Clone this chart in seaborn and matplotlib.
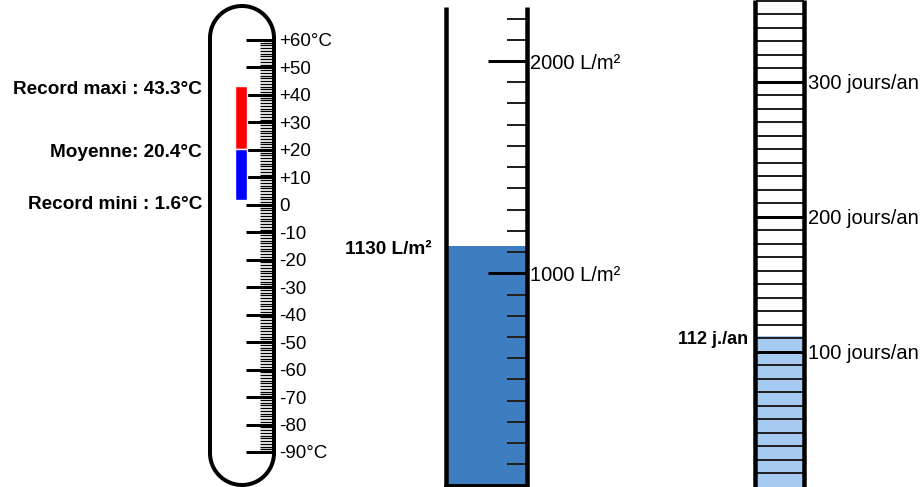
import numpy as np
import matplotlib.pyplot as plt
import seaborn as sns

# --- data ---
temp_values = [43.3, 20.4, 1.6]          # record maxi, moyenne, record mini
temp_texts = ["Record maxi : 43.3°C", "Moyenne: 20.4°C", "Record mini : 1.6°C"]
temp_ticks = [60, 50, 40, 30, 20, 10, 0, -10, -20, -30, -40, -50, -60, -70, -80, -90]
temp_labels = ["+60°C", "+50", "+40", "+30", "+20", "+10", "0", "-10", "-20",
               "-30", "-40", "-50", "-60", "-70", "-80", "-90°C"]

rain_value = [1130]
rain_text = "1130 L/m²"
rain_ticks = [1000, 2000]
rain_labels = ["1000 L/m²", "2000 L/m²"]

days_value = [112]
days_text = "112 j./an"
days_ticks = [100, 200, 300]
days_labels = ["100 jours/an", "200 jours/an", "300 jours/an"]

W, H = 923, 487
PT = 0.72  # points per pixel at 100 dpi
RAIN = "#3d7dc0"
DAYS = "#a6caf0"

sns.set_style("white")
plt.rcParams["font.family"] = ["Liberation Sans", "DejaVu Sans"]
plt.rcParams["text.color"] = "black"

fig = plt.figure(figsize=(W / 100, H / 100), dpi=100)


def style_axes(ax):
    ax.patch.set_alpha(0)
    for s in ax.spines.values():
        s.set_visible(False)
    ax.set_xticks([])
    ax.set_xlabel("")
    ax.set_ylabel("")
    ax.yaxis.tick_right()


def fit_ylim(ax, v1, p1, v2, p2):
    # value v1 sits at pixel row p1, v2 at p2 (rows counted from the top)
    k = (p2 - p1) / (v2 - v1)
    ax.set_ylim(v1 + (H - p1) / k, v1 - p1 / k)


def side_label(ax, txt, x, v, size):
    ax.annotate(txt, xy=(x, v), xycoords=("figure pixels", "data"), xytext=(0, -4),
                textcoords="offset pixels", ha="right", va="center",
                fontsize=size, fontweight="bold")


# thermometer
ax1 = fig.add_axes([210 / W, 0, 64 / W, 1])
ax1.bar(241, temp_values[0] - temp_values[1], bottom=temp_values[1], width=12, color="#ff0000")
ax1.bar(241, temp_values[1] - temp_values[2], bottom=temp_values[2], width=12, color="#0000ff")
style_axes(ax1)
ax1.set_xlim(210, 274)
fit_ylim(ax1, 60, 40, -90, 452)
ax1.set_yticks(temp_ticks, labels=temp_labels)
ax1.set_yticks(np.arange(-90, 61, 1), minor=True)
ax1.tick_params(axis="y", which="major", direction="in", length=28 * PT, width=3 * PT,
                pad=4, labelsize=13.5, color="black", labelcolor="black")
ax1.tick_params(axis="y", which="minor", direction="in", length=14 * PT, width=1.3 * PT, color="black")
for txt, v in zip(temp_texts, temp_values):
    side_label(ax1, txt, 202, v, 13.7)

# rain gauge
ax2 = fig.add_axes([446 / W, 0, 81 / W, 1])
sns.barplot(x=["pluie"], y=rain_value, width=1, color=RAIN, saturation=1, linewidth=0, ax=ax2)
style_axes(ax2)
ax2.set_xlim(-0.5, 0.5)
fit_ylim(ax2, 1000, 273.3, 2000, 61)
ax2.set_axisbelow(False)
ax2.set_yticks(rain_ticks, labels=rain_labels)
ax2.set_yticks([v for v in range(100, 2300, 100) if v % 1000], minor=True)
ax2.tick_params(axis="y", which="major", direction="in", length=39 * PT, width=3 * PT,
                pad=2.5, labelsize=14.5, color="black", labelcolor="black")
ax2.tick_params(axis="y", which="minor", direction="in", length=20 * PT, width=2 * PT, color="#222222")
side_label(ax2, rain_text, 432, rain_value[0], 13.7)

# days
ax3 = fig.add_axes([755 / W, 0, 48.5 / W, 1])
sns.barplot(x=["jours"], y=days_value, width=1, color=DAYS, saturation=1, linewidth=0, ax=ax3)
style_axes(ax3)
ax3.set_xlim(-0.5, 0.5)
fit_ylim(ax3, 0, 486.7, 300, 81.7)
ax3.set_axisbelow(False)
ax3.set_yticks(days_ticks, labels=days_labels)
ax3.set_yticks([v for v in range(10, 370, 10) if v % 100], minor=True)
ax3.tick_params(axis="y", which="major", direction="in", length=48.5 * PT, width=3 * PT,
                pad=3, labelsize=14.5, color="black", labelcolor="black")
ax3.tick_params(axis="y", which="minor", direction="in", length=48.5 * PT, width=2 * PT, color="#222222")
side_label(ax3, days_text, 748, days_value[0], 13)

# tube outlines, drawn in pixel space on top
ax0 = fig.add_axes([0, 0, 1, 1])
ax0.set_xlim(0, W)
ax0.set_ylim(H, 0)
ax0.axis("off")
ax0.patch.set_alpha(0)

t = np.linspace(0, np.pi, 60)
cx, r, ytop, ybot = 242, 32, 38, 453
xs = np.concatenate([[274, 274], cx + r * np.cos(t), [210, 210], cx + r * np.cos(t[::-1])])
ys = np.concatenate([[ybot, ytop], ytop - r * np.sin(t), [ytop, ybot], ybot + r * np.sin(t[::-1])])
ax0.plot(xs, ys, color="black", lw=4 * PT)

for x in (446, 527):
    ax0.plot([x, x], [7, H], color="black", lw=4.5 * PT, solid_capstyle="butt")
ax0.plot([446, 527], [486, 486], color="black", lw=4 * PT)

for x in (755, 803.5):
    ax0.plot([x, x], [0, H], color="black", lw=4.5 * PT, solid_capstyle="butt")

fig.savefig("out.png", dpi=100)
